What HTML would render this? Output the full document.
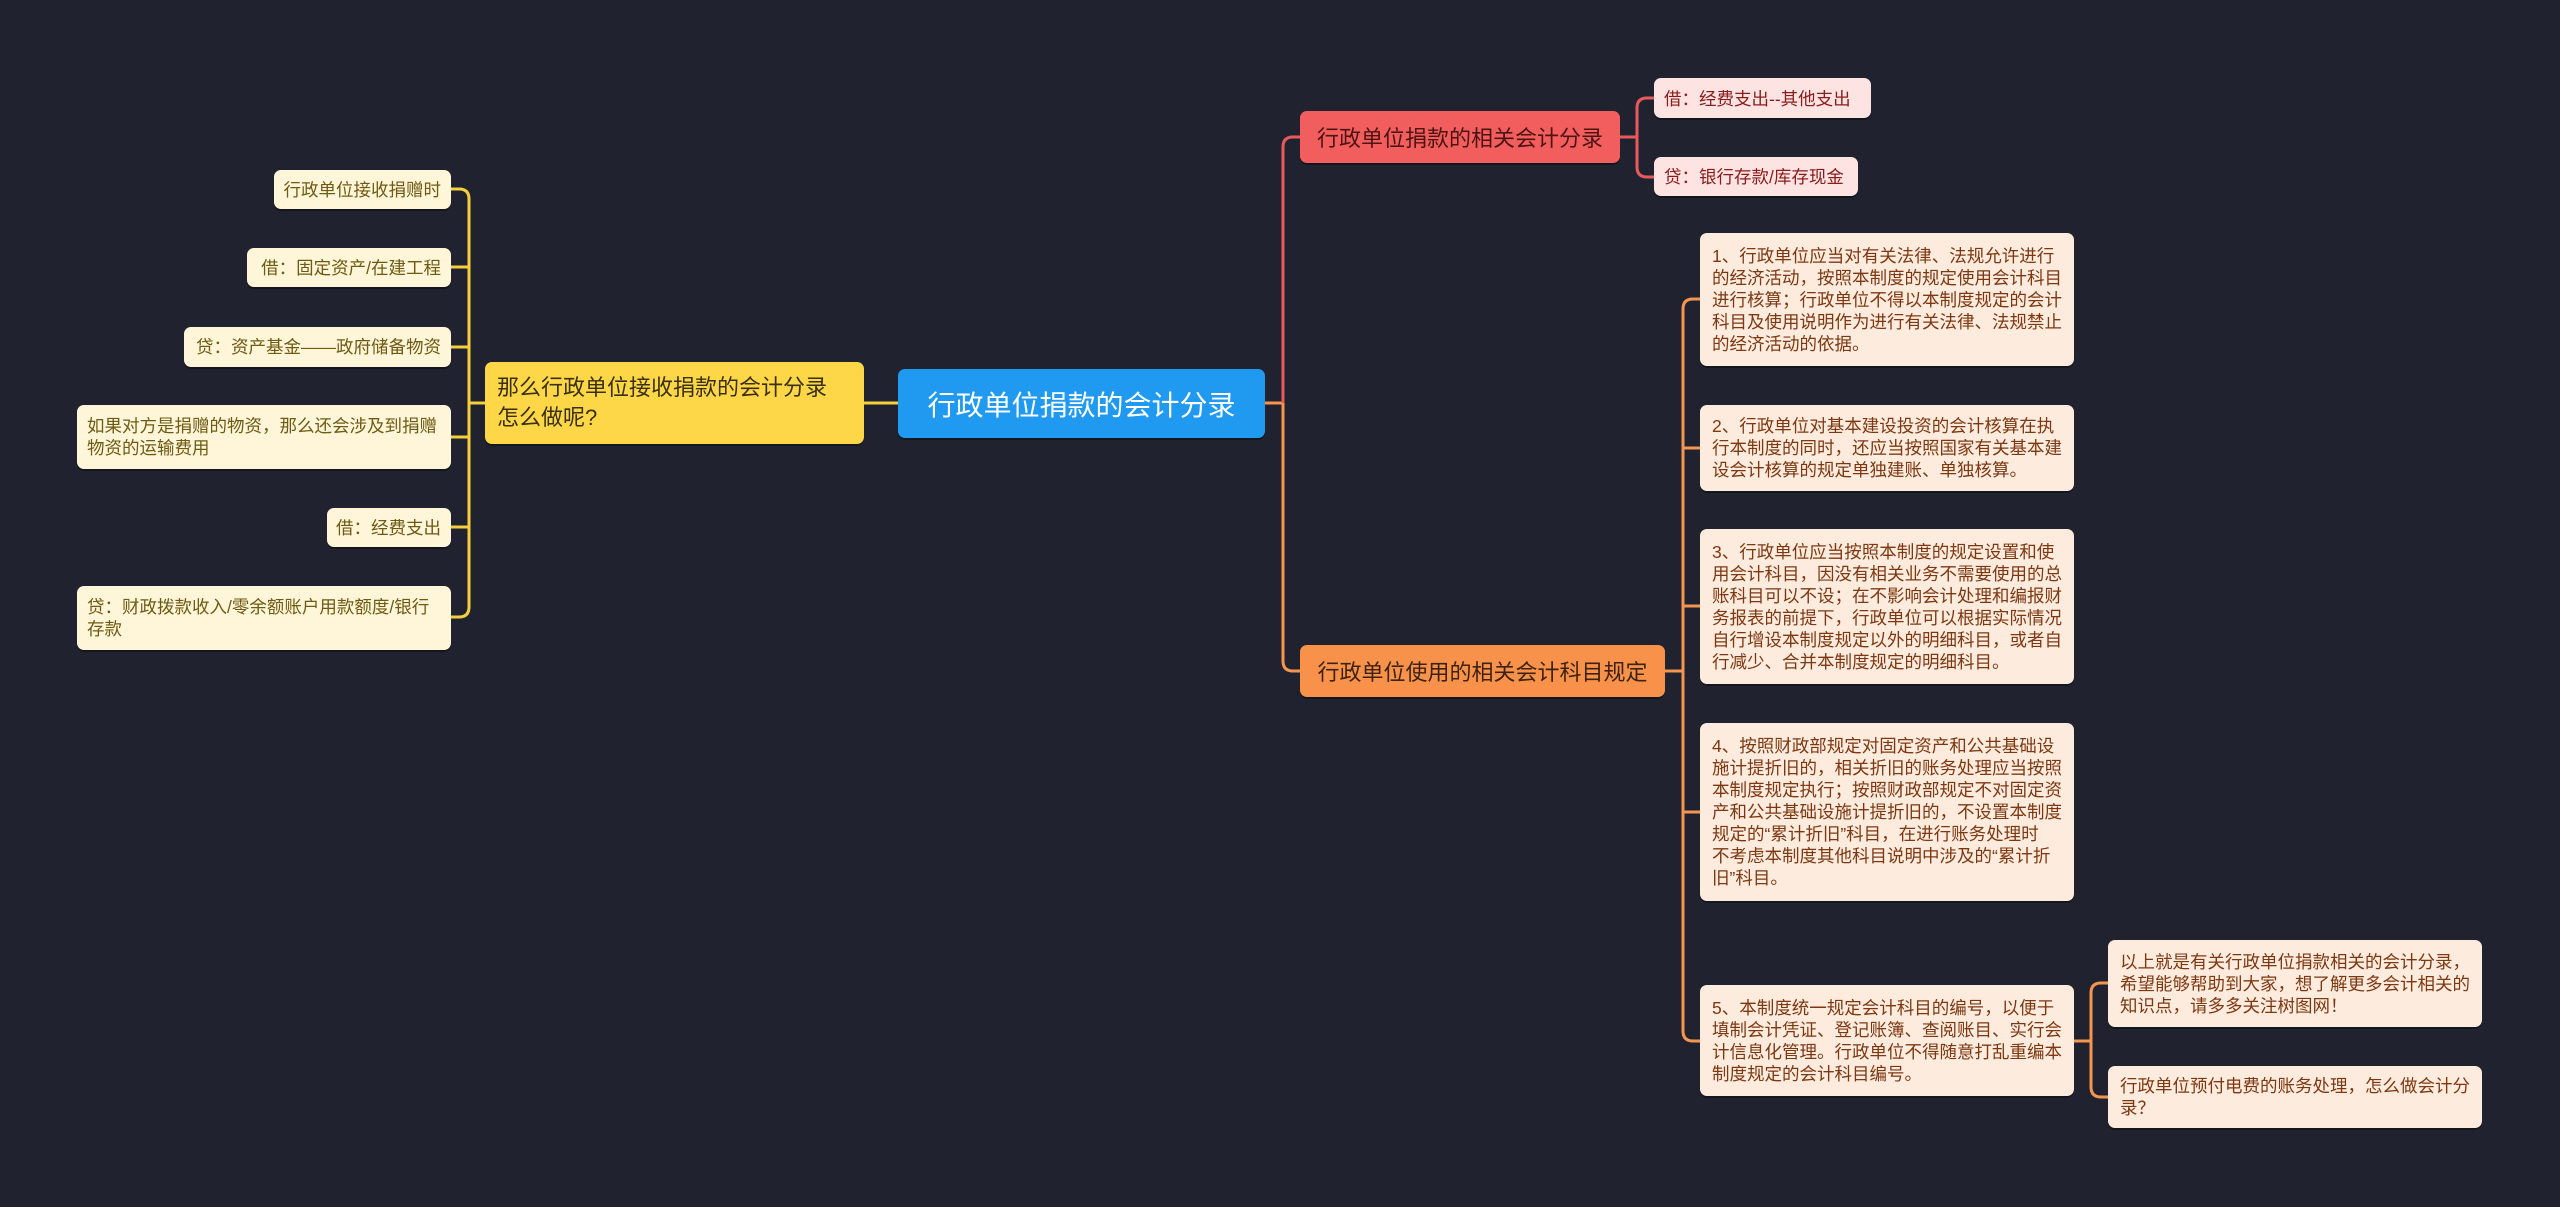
<!DOCTYPE html>
<html><head><meta charset="utf-8">
<style>
html,body{margin:0;padding:0;}
body{width:2560px;height:1207px;background:#20232f;position:relative;overflow:hidden;font-family:"Liberation Sans","Noto Sans CJK SC",sans-serif;}
.n{position:absolute;box-sizing:border-box;white-space:nowrap;border-radius:7px;}
.lf{background:#fff6d9;color:#6e5a12;font-size:17.5px;line-height:22px;padding:0 10px;display:flex;align-items:center;justify-content:flex-end;box-shadow:0 2px 0 rgba(0,0,0,.35);}
.lf.m{justify-content:flex-start;}
.rp{background:#fde3e1;color:#8a1c1c;font-size:17.5px;padding:0 10px;display:flex;align-items:center;box-shadow:0 2px 0 rgba(0,0,0,.35);}
.ro{background:#fdebdd;color:#7d3812;font-size:17.5px;line-height:22px;padding:0 12px;display:flex;align-items:center;box-shadow:0 2px 0 rgba(0,0,0,.35);}
svg{position:absolute;left:0;top:0;}
</style></head><body>
<svg width="2560" height="1207" fill="none" stroke-width="3">
 <!-- center to yellow -->
 <path d="M864 403 H898" stroke="#f5cf3d"/>
 <!-- yellow trunk -->
 <g stroke="#f5cf3d">
  <path d="M485 403 H469"/>
  <path d="M451 189 H459 Q469 189 469 199 V607 Q469 617 459 617 H451"/>
  <path d="M451 267 H469"/><path d="M451 347 H469"/><path d="M451 437 H469"/><path d="M451 527 H469"/>
 </g>
 <!-- center to right -->
 <path d="M1265 403 H1283" stroke="#f5954f"/>
 <path d="M1283 403 V147 Q1283 137 1293 137 H1300" stroke="#e8595c"/>
 <path d="M1283 403 V661 Q1283 671 1293 671 H1300" stroke="#f5954f"/>
 <!-- red children -->
 <g stroke="#e8595c">
  <path d="M1620 137 H1637"/>
  <path d="M1654 98 H1647 Q1637 98 1637 108 V167 Q1637 177 1647 177 H1654"/>
 </g>
 <!-- orange children -->
 <g stroke="#f5954f">
  <path d="M1665 671 H1683"/>
  <path d="M1700 299 H1693 Q1683 299 1683 309 V1031 Q1683 1041 1693 1041 H1700"/>
  <path d="M1700 448 H1683"/><path d="M1700 606 H1683"/><path d="M1700 812 H1683"/>
  <path d="M2074 1041 H2091"/>
  <path d="M2108 983 H2101 Q2091 983 2091 993 V1087 Q2091 1097 2101 1097 H2108"/>
 </g>
</svg>

<div class="n" style="left:898px;top:369px;width:367px;height:69px;background:#1f9af0;color:#fff;font-size:28px;display:flex;align-items:center;justify-content:center;box-shadow:0 2px 0 rgba(0,0,0,.35);">行政单位捐款的会计分录</div>

<div class="n" style="left:485px;top:362px;width:379px;height:82px;background:#fdd747;color:#3a3010;font-size:22px;line-height:30px;padding:4px 12px;display:flex;flex-direction:column;justify-content:center;box-shadow:0 2px 0 rgba(0,0,0,.35);"><div>那么行政单位接收捐款的会计分录</div><div>怎么做呢?</div></div>

<div class="n lf" style="left:274px;top:170px;width:177px;height:39px;">行政单位接收捐赠时</div>
<div class="n lf" style="left:247px;top:248px;width:204px;height:39px;">借：固定资产/在建工程</div>
<div class="n lf" style="left:184px;top:327px;width:267px;height:40px;">贷：资产基金——政府储备物资</div>
<div class="n lf m" style="left:77px;top:405px;width:374px;height:64px;">如果对方是捐赠的物资，那么还会涉及到捐赠<br>物资的运输费用</div>
<div class="n lf" style="left:327px;top:508px;width:124px;height:39px;">借：经费支出</div>
<div class="n lf m" style="left:77px;top:586px;width:374px;height:64px;">贷：财政拨款收入/零余额账户用款额度/银行<br>存款</div>

<div class="n" style="left:1300px;top:111px;width:320px;height:52px;background:#f25d5d;color:#4e1414;font-size:22px;display:flex;align-items:center;justify-content:center;box-shadow:0 2px 0 rgba(0,0,0,.35);">行政单位捐款的相关会计分录</div>
<div class="n rp" style="left:1654px;top:78px;width:217px;height:40px;">借：经费支出--其他支出</div>
<div class="n rp" style="left:1654px;top:157px;width:204px;height:39px;">贷：银行存款/库存现金</div>

<div class="n" style="left:1300px;top:645px;width:365px;height:52px;background:#f8924b;color:#3e2210;font-size:22px;display:flex;align-items:center;justify-content:center;box-shadow:0 2px 0 rgba(0,0,0,.35);">行政单位使用的相关会计科目规定</div>

<div class="n ro" style="left:1700px;top:233px;width:374px;height:133px;">1、行政单位应当对有关法律、法规允许进行<br>的经济活动，按照本制度的规定使用会计科目<br>进行核算；行政单位不得以本制度规定的会计<br>科目及使用说明作为进行有关法律、法规禁止<br>的经济活动的依据。</div>
<div class="n ro" style="left:1700px;top:405px;width:374px;height:86px;">2、行政单位对基本建设投资的会计核算在执<br>行本制度的同时，还应当按照国家有关基本建<br>设会计核算的规定单独建账、单独核算。</div>
<div class="n ro" style="left:1700px;top:529px;width:374px;height:155px;">3、行政单位应当按照本制度的规定设置和使<br>用会计科目，因没有相关业务不需要使用的总<br>账科目可以不设；在不影响会计处理和编报财<br>务报表的前提下，行政单位可以根据实际情况<br>自行增设本制度规定以外的明细科目，或者自<br>行减少、合并本制度规定的明细科目。</div>
<div class="n ro" style="left:1700px;top:723px;width:374px;height:178px;">4、按照财政部规定对固定资产和公共基础设<br>施计提折旧的，相关折旧的账务处理应当按照<br>本制度规定执行；按照财政部规定不对固定资<br>产和公共基础设施计提折旧的，不设置本制度<br>规定的“累计折旧”科目，在进行账务处理时<br>不考虑本制度其他科目说明中涉及的“累计折<br>旧”科目。</div>
<div class="n ro" style="left:1700px;top:985px;width:374px;height:111px;">5、本制度统一规定会计科目的编号，以便于<br>填制会计凭证、登记账簿、查阅账目、实行会<br>计信息化管理。行政单位不得随意打乱重编本<br>制度规定的会计科目编号。</div>
<div class="n ro" style="left:2108px;top:940px;width:374px;height:87px;">以上就是有关行政单位捐款相关的会计分录，<br>希望能够帮助到大家，想了解更多会计相关的<br>知识点，请多多关注树图网！</div>
<div class="n ro" style="left:2108px;top:1066px;width:374px;height:62px;">行政单位预付电费的账务处理，怎么做会计分<br>录？</div>
</body></html>
